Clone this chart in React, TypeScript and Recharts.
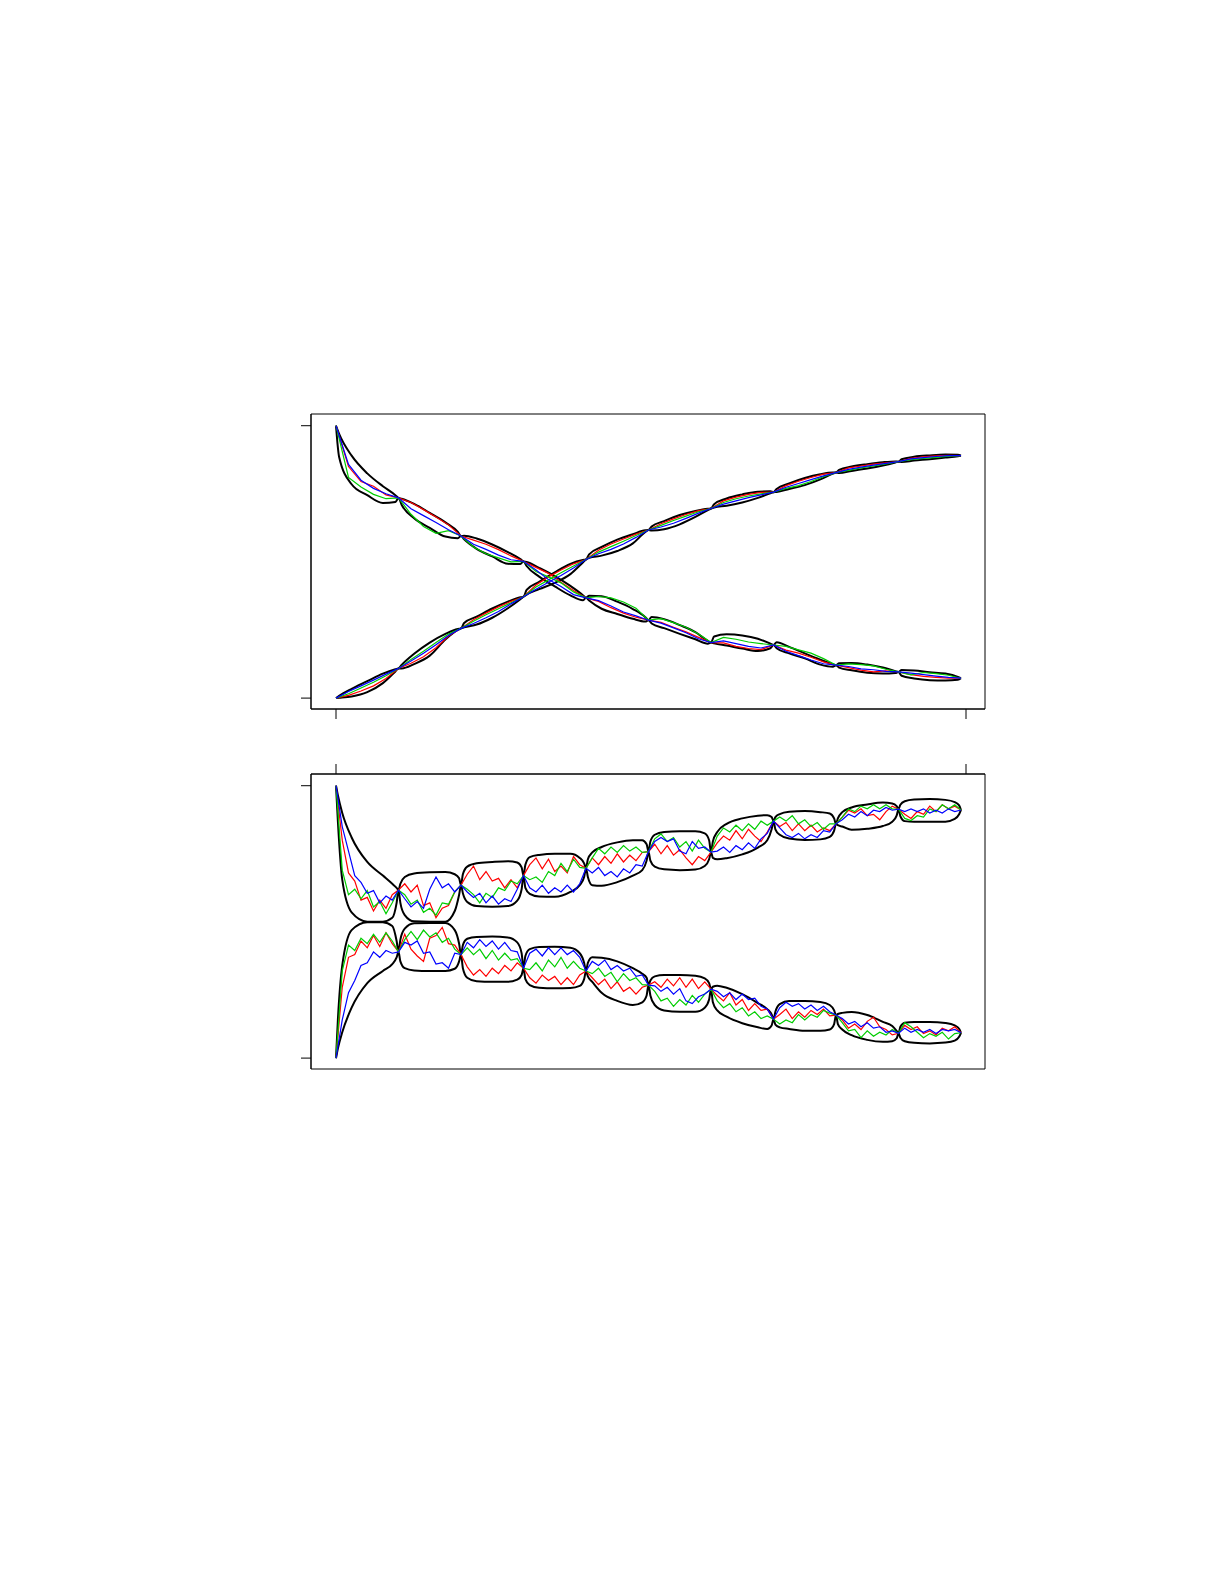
import React from "react";
import { ComposedChart, Line, XAxis, YAxis, ReferenceArea } from "recharts";

// x runs in knot units 0..10, y in percent
const topOffsets = [0, 0.05, 0.25, 0.5, 0.75, 0.95];
const bottomOffsets = [0, 0.03, 0.1, 0.25, 0.5, 0.75, 0.9, 0.97];
const xTicks = [0, 10.08];
const yTicks = [0, 100];

// top panel envelopes
const topDecUpper = [
  100, 97, 89, 82.5, 77.8, 74.5,
  73.5, 73.2, 71.3, 68, 64.5, 61,
  59.5, 59.6, 58.6, 56.4, 53.6, 51,
  50.2, 50, 47.8, 44.8, 41.2, 37.8,
  36.8, 37.6, 37.4, 35.4, 32.7, 29.7,
  28.6, 29.8, 29, 26.8, 24.2, 21,
  20.4, 22.6, 23.4, 23, 21.8, 20,
  19.5, 20.5, 18.8, 16.4, 14.1, 12.4,
  12.1, 12.8, 12.9, 12.3, 11.2, 9.9,
  9.6, 10.3, 10.1, 9.5, 9.0, 7.8,
  7.3,
];
const topDecLower = [
  100, 88.5, 78.5, 74.5, 71.6, 72,
  73.5, 71, 66, 62.5, 59.3, 58.7,
  59.5, 58.3, 54.8, 52, 49.3, 49.2,
  50.2, 48.5, 44.6, 41, 37.7, 35.9,
  36.8, 35.8, 32.8, 30.9, 29.1, 28.1,
  28.6, 27.4, 25.7, 23.6, 21.6, 20.0,
  20.4, 20.1, 19.3, 18.2, 17.3, 18.3,
  19.5, 18.3, 16.4, 14.6, 12.3, 11.5,
  12.1, 11.2, 10.2, 9.3, 9.0, 9.2,
  9.6, 8.2, 7.2, 6.6, 6.5, 6.7,
  7.3,
];
const topIncUpper = [
  0, 0.8, 3.4, 6.2, 9.0, 10.6,
  10.9, 12.2, 16.3, 20.4, 23.6, 25.4,
  25.6, 27.6, 29.9, 32.9, 35.4, 37,
  37.2, 39.7, 42.7, 46.2, 49.3, 50.7,
  50.9, 52.8, 55.5, 58.2, 60.2, 61.6,
  61.7, 63, 65, 67.2, 68.7, 69.5,
  69.6, 71.2, 73.3, 74.8, 75.8, 75.9,
  75.6, 76.8, 78.8, 80.8, 82.2, 82.8,
  82.8, 83.8, 85, 85.9, 86.6, 86.9,
  86.8, 87.7, 88.6, 89.1, 89.4, 89.3,
  89,
];
const topIncLower = [
  0, 0.1, 0.6, 2.2, 5.5, 9.8,
  10.9, 10.9, 12.5, 15.6, 21.5, 25,
  25.6, 26, 27, 29.5, 33, 36.3,
  37.2, 38, 40, 42.3, 45.5, 49.8,
  50.9, 51.5, 52.3, 54, 56.8, 61,
  61.7, 61.5, 62, 63.8, 66.5, 69,
  69.6, 70, 70.6, 71.8, 73.5, 75.2,
  75.6, 75.7, 76.8, 78.2, 80.3, 82.4,
  82.8, 82.6, 83.4, 84.3, 85.4, 86.5,
  86.8, 86.7, 87.2, 87.7, 88.3, 88.8,
  89,
];

// top panel chains, sampled every 0.2
const topDecRed = [
  100, 85, 79.5, 77.8, 74.6, 73.5, 71.8, 69.2, 66.5, 63.6,
  59.5, 58, 56.5, 54.5, 52.2, 50.2, 48, 45.8, 42.5, 39.5,
  36.8, 35.5, 33.2, 31.2, 29.7, 28.6, 27.8, 26, 24.3, 22.3,
  20.4, 20.3, 19, 18.2, 17.8, 19.5, 17.6, 16.5, 15, 13.3,
  12.1, 11.2, 10.3, 9.6, 10, 9.6, 8.6, 8, 7.6, 7.3, 7.3,
];
const topDecGreen = [
  100, 81, 77.5, 74.8, 73.2, 73.5, 67.5, 63, 60.5, 61.5,
  59.5, 55.5, 53, 51.5, 50, 50.2, 46.5, 44.5, 42.3, 39,
  36.8, 37.3, 36.8, 35.3, 33, 28.6, 29.2, 27.7, 26, 23.5,
  20.4, 22.3, 21.6, 20.6, 20, 19.5, 19, 17.7, 16.5, 14.5,
  12.1, 12.6, 12.3, 11.8, 10.6, 9.6, 8.5, 9.4, 9.0, 8.4, 7.3,
];
const topDecBlue = [
  100, 85.8, 80, 77, 75, 73.5, 69.5, 67, 64.5, 61.8,
  59.5, 56.5, 54.6, 52.5, 50.8, 50.2, 47, 43.5, 41, 38,
  36.8, 35.8, 33.8, 31.6, 30.2, 28.6, 27.5, 25.8, 24, 21.8,
  20.4, 21, 20, 19, 18.4, 19.5, 17.2, 15.6, 14, 12.6,
  12.1, 11.6, 10.7, 10.4, 9.8, 9.6, 9.2, 8.6, 8.1, 7.6, 7.3,
];
const topIncRed = [
  0, 1.0, 2.6, 4.5, 7.2, 10.9, 12.8, 15.2, 18.5, 22.8,
  25.6, 28.8, 31.2, 33.5, 35.5, 37.2, 41.5, 44.5, 47, 49.3,
  50.9, 54.3, 56.6, 58.4, 60.2, 61.7, 64, 65.8, 67.4, 68.8,
  69.6, 72.4, 73.8, 74.8, 75.5, 75.6, 78, 79.6, 81, 82.2,
  82.8, 84.5, 85.2, 85.9, 86.4, 86.8, 88, 88.6, 88.9, 89.1, 89,
];
const topIncGreen = [
  0, 1.6, 3.7, 5.8, 8.2, 10.9, 14.2, 17.2, 20.4, 23.5,
  25.6, 28.2, 30.6, 32.8, 35, 37.2, 40.8, 43.4, 46, 48.5,
  50.9, 53.6, 55.6, 57.6, 59.7, 61.7, 63.4, 65.2, 66.8, 68.4,
  69.6, 71.8, 73.2, 74.2, 75, 75.6, 77, 78, 79.5, 81.3,
  82.8, 83.6, 84.5, 85.2, 86, 86.8, 87.5, 88, 88.4, 88.8, 89,
];
const topIncBlue = [
  0, 2.4, 4.5, 6.6, 8.8, 10.9, 13.6, 16.5, 19.6, 23,
  25.6, 27.4, 29.5, 31.8, 34.6, 37.2, 40, 42.5, 45, 47.8,
  50.9, 53, 54.6, 56.6, 59, 61.7, 62.8, 64.2, 66, 67.9,
  69.6, 71.2, 72.4, 73.6, 74.6, 75.6, 77.4, 78.8, 80.2, 81.6,
  82.8, 84, 84.8, 85.5, 86.2, 86.8, 87.8, 88.3, 88.7, 89, 89,
];

// bottom panel envelopes
const botUpUpper = [
  100, 96.5, 90, 81, 72, 67, 64, 62.5,
  61.7, 64, 66.5, 67.8, 68.2, 68.3, 67.5, 66,
  63.5, 67.5, 70.3, 71.5, 72, 72.3, 71.8, 70,
  67, 71, 73.8, 74.6, 75, 75, 73.5, 71.5,
  69.7, 73, 75.5, 77.5, 79.2, 80, 80, 78.5,
  75.8, 79.5, 82, 83, 83.3, 83.3, 82.5, 80,
  75.6, 79.5, 83, 86, 88, 89, 89.2, 88.5,
  87, 88.5, 89.6, 90.4, 90.7, 90.3, 89.8, 88,
  86, 88, 90.3, 92, 93.1, 93.8, 93.5, 92.5,
  91.4, 93, 94.3, 94.9, 95.1, 94.8, 94, 92.8,
  91.1,
];
const botUpLower = [
  100, 87, 65.5, 53.5, 50.1, 50.1, 51.5, 57,
  61.7, 57, 52.5, 50.2, 50.1, 50.1, 54, 60,
  63.5, 60.5, 57.3, 55.8, 55.6, 55.8, 57.8, 62,
  67, 62.5, 60.3, 59.3, 59.2, 61, 63.5, 66.5,
  69.7, 66.5, 63.5, 63.3, 64.6, 67, 69, 72.5,
  75.8, 72.5, 70.3, 69.3, 69, 69.2, 70.5, 73,
  75.6, 73.5, 73, 73.4, 74.8, 77.3, 80, 84,
  87, 84, 82, 80.6, 80.1, 80.3, 81.2, 83.5,
  86, 85.5, 85, 83.8, 84.2, 85.2, 86.8, 89,
  91.4, 88.8, 87, 86.8, 86.8, 86.8, 87.8, 89.5,
  91.1,
];
const botLowUpper = [
  0, 14, 34, 47, 49.9, 49.9, 48.5, 43,
  39, 43.5, 47.5, 49.5, 49.6, 49.6, 47, 42,
  38, 41.5, 43.8, 44.5, 44.6, 44.3, 42.5, 38.5,
  33, 37.5, 40, 40.8, 40.9, 40.5, 38.5, 35,
  32, 35, 37, 36.8, 35.5, 33, 31, 29.5,
  26.8, 28.5, 30, 30.5, 30.5, 30.2, 29.3, 27.5,
  25.3, 26.2, 26.6, 25.8, 23.5, 20.2, 18, 16,
  14.3, 17, 19.8, 21, 21, 20.6, 19.5, 17.5,
  15.8, 16.2, 16.6, 16.9, 15.8, 13.3, 11.8, 10,
  9.1, 11.5, 13, 13.3, 13.3, 12.9, 12, 10.8,
  9.3,
];
const botLowLower = [
  0, 3.5, 9.5, 18.5, 27.5, 32, 34.5, 37,
  39, 35.5, 33, 32.2, 32, 32, 32.8, 35.5,
  38, 33, 29.5, 28.2, 28, 28, 28.8, 30.5,
  33, 29, 26.8, 25.8, 25.6, 25.7, 26.5, 29,
  32, 30, 28, 24, 21, 19.5, 20.5, 23,
  26.8, 23, 19.5, 17.5, 17, 17, 18.5, 21.5,
  25.3, 20.5, 17.5, 15.2, 12.8, 11.3, 10.7, 12,
  14.3, 12.3, 11.3, 10.7, 10, 10, 10.5, 12.5,
  15.8, 12.5, 10.5, 8.4, 6.7, 6.0, 6.2, 7.2,
  9.1, 7.5, 6.2, 5.6, 5.4, 5.7, 6.4, 7.8,
  9.3,
];

// bottom panel chains, sampled every 0.1
const botUpRed = [
  100, 80, 68, 65, 58, 59, 54, 58, 55, 60,
  61.7, 64, 61, 63.5, 56, 57, 51.5, 55, 56, 61,
  63.5, 67.5, 70.5, 65.5, 68.5, 65, 66, 62.5, 65.5, 62.5,
  67, 71, 73.5, 69.5, 73, 68.5, 70.5, 68, 74, 71,
  69.7, 73.5, 71, 74, 71.5, 75, 72, 74.5, 72.5, 75.5,
  75.8, 78.5, 75, 78, 74.5, 76.5, 73.5, 71, 74, 72.5,
  75.6, 79, 81.5, 80, 83.5, 80.5, 84, 81.5, 79.5, 83,
  87, 85, 86.5, 83.5, 86, 83.5, 85.5, 83, 84.5, 83.5,
  86, 88.5, 91, 90, 91.5, 89, 89.5, 87.5, 90.5, 92.5,
  91.4, 89.5, 88, 90.5, 89.5, 92.5, 90.5, 93, 91.5, 92.5,
  91.1,
];
const botUpGreen = [
  100, 69, 60, 62, 58.5, 61.5, 55.5, 57.5, 53, 57,
  61.7, 60, 56.5, 58, 53.5, 55, 52.5, 57, 56.5, 61,
  63.5, 62, 60, 57, 60.5, 59, 62.5, 61.5, 65, 64,
  67, 65.5, 66.5, 64.5, 68.5, 67, 71.5, 68.5, 73, 70,
  69.7, 73.5, 77, 75, 77.5, 75.5, 78, 76, 77.5, 75.5,
  75.8, 80.5, 82.3, 79.5, 81, 77.5, 79.5, 76, 80, 77,
  75.6, 81.5, 84.5, 83, 85.5, 83.5, 86, 84, 87, 85.5,
  87, 88.5, 87, 89, 86, 87.5, 85, 86.5, 84, 86,
  86, 88.5, 91.5, 90.5, 92.5, 91.5, 93, 91.5, 93, 91.5,
  91.4, 88, 87.2, 89, 88.5, 91.5, 90.5, 93, 91.5, 93,
  91.1,
];
const botUpBlue = [
  100, 85, 76, 67, 64.5, 60.5, 61.5, 57, 59.5, 58,
  61.7, 58.5, 55.5, 57.5, 55, 62, 66.5, 62.5, 64, 61,
  63.5, 61, 59, 60.5, 57, 59.5, 56.5, 58.5, 57.5, 62,
  67, 62.5, 61, 63.5, 60.5, 62.5, 61, 63.5, 61, 64,
  69.7, 68, 70, 67, 68.5, 66.5, 69.5, 68, 71, 70.5,
  75.8, 79.5, 81, 79.5, 80.5, 76, 75, 79.5, 77, 77.5,
  75.6, 76, 77.5, 75.5, 78, 76.5, 79, 77, 80.5, 82.5,
  87, 84.5, 82, 81, 82.5, 80.5, 82, 81, 83.5, 83,
  86, 87.5, 89.5, 88.5, 90.5, 89, 91, 90.5, 92, 91,
  91.4, 90.5, 91.5, 90.5, 91.5, 90, 91, 90, 91.5, 90.5,
  91.1,
];
const botLowRed = [
  0, 26, 37, 38, 43, 40.5, 45, 41, 46, 42,
  39, 45.5, 40, 37.5, 35.5, 44, 45, 48, 42, 41.5,
  38, 33.5, 30.5, 32.5, 30, 33, 31, 34, 32, 35,
  33, 29.5, 27.5, 30.5, 28.5, 30, 27, 29.5, 27, 30.5,
  32, 29.5, 27, 29, 25.5, 28, 24.5, 26, 23.5, 26,
  26.8, 28, 26, 29, 26.5, 29.5, 26, 29, 25.5, 28,
  25.3, 23, 21, 24, 19.5, 21.5, 17.5, 20, 17.5, 18,
  14.3, 16, 18, 14.5, 17, 15, 17.5, 16, 18, 15.5,
  15.8, 14, 11, 12.5, 10.5, 13.5, 15, 11.5, 10.5, 8.5,
  9.1, 12, 10.5, 11.5, 9, 10, 8.5, 11, 10, 11.5,
  9.3,
];
const botLowGreen = [
  0, 32, 41.5, 39.5, 44, 42, 45.5, 42.5, 46, 43,
  39, 43.5, 46.5, 43.5, 47, 44.5, 46, 42.5, 44, 40,
  38, 40.5, 38, 40, 36.5, 39.5, 36, 38.5, 36, 36.5,
  33, 32.5, 35, 32, 36, 33.5, 37, 33, 35.5, 33,
  32, 31, 33, 30, 31.5, 28, 31, 28.5, 29.5, 27,
  26.8, 24.5, 21, 22, 19, 21.5, 19.5, 23, 20.5, 23.5,
  25.3, 21, 18.5, 20, 17, 18.5, 15.5, 17, 14.5, 15.5,
  14.3, 12.5, 14, 13, 16, 14, 16, 15, 17.5, 16.5,
  15.8, 13, 10, 10.5, 7.5, 10, 8, 9.5, 8.5, 10.5,
  9.1, 13, 11.5, 9.5, 7.5, 9, 8, 9.5, 7, 9,
  9.3,
];
const botLowBlue = [
  0, 14, 24, 28.5, 34, 35, 39, 37, 39.5, 38.5,
  39, 42.5, 41.5, 43, 38.5, 39, 34.5, 35, 33, 38.5,
  38, 42.5, 40.5, 43.5, 41, 43, 40, 42.5, 39.5, 39,
  33, 38.5, 40, 37.5, 40.5, 38, 40.5, 38, 39.5, 37,
  32, 35.5, 34, 36, 32.5, 34, 32, 33, 30, 30.5,
  26.8, 26.5, 24.5, 26, 23.5, 25.5, 21, 20, 22.5, 23.5,
  25.3, 24.5, 22.5, 24, 21.5, 23.5, 21.5, 22, 19, 18,
  14.3, 18.5, 20.5, 19, 20, 18, 19.5, 17.5, 19, 17,
  15.8, 14.5, 12.5, 13.5, 11.5, 13, 11, 11.5, 9.5, 10,
  9.1, 11, 9.5, 10.5, 9.5, 10.5, 9, 10.5, 10, 10.5,
  9.3,
];

const RED = "#ff0000";
const GREEN = "#00cd00";
const BLUE = "#0000ff";

const edgeX = (offsets: number[]) =>
  Array.from({ length: 10 }, (_, i) => offsets.map((o) => +(i + o).toFixed(2)))
    .flat()
    .concat(10);

const stepX = (ys: number[], step: number) => ys.map((_, i) => +(i * step).toFixed(2));

const toPoints = (xs: number[], ys: number[]) => ys.map((y, i) => ({ x: xs[i], y }));

type Series = { xs: number[]; ys: number[]; color: string; width: number; curve: "monotone" | "linear" };

function panelSeries(
  offsets: number[],
  edges: number[][],
  chains: [number[], string][],
  step: number
): Series[] {
  const ex = edgeX(offsets);
  const out: Series[] = edges.map((ys) => ({ xs: ex, ys, color: "#000", width: 2, curve: "monotone" }));
  chains.forEach(([ys, color]) => out.push({ xs: stepX(ys, step), ys, color, width: 1.2, curve: "linear" }));
  return out;
}

const topSeries = panelSeries(
  topOffsets,
  [topDecUpper, topDecLower, topIncUpper, topIncLower],
  [
    [topDecRed, RED],
    [topIncRed, RED],
    [topDecGreen, GREEN],
    [topIncGreen, GREEN],
    [topDecBlue, BLUE],
    [topIncBlue, BLUE],
  ],
  0.2
);

const bottomSeries = panelSeries(
  bottomOffsets,
  [botUpUpper, botUpLower, botLowUpper, botLowLower],
  [
    [botUpRed, RED],
    [botLowRed, RED],
    [botUpGreen, GREEN],
    [botLowGreen, GREEN],
    [botUpBlue, BLUE],
    [botLowBlue, BLUE],
  ],
  0.1
);

const X_DOMAIN: [number, number] = [-0.4, 10.384];
const Y_DOMAIN: [number, number] = [-4, 104.3];
const black = { stroke: "#000", strokeWidth: 1 };
const noLabel = () => <g />;

function Panel({ series, ticksOnTop }: { series: Series[]; ticksOnTop: boolean }) {
  return (
    <ComposedChart
      width={719}
      height={ticksOnTop ? 330 : 326}
      margin={ticksOnTop ? { top: 0, right: 15, bottom: 11, left: 0 } : { top: 10, right: 15, bottom: 0, left: 0 }}
    >
      <XAxis
        xAxisId="main"
        orientation={ticksOnTop ? "top" : "bottom"}
        type="number"
        dataKey="x"
        domain={X_DOMAIN}
        ticks={xTicks}
        interval={0}
        tick={noLabel}
        tickSize={10}
        height={ticksOnTop ? 24 : 21}
        stroke="#000"
        axisLine={black}
        tickLine={black}
        allowDataOverflow
      />
      <YAxis
        yAxisId="main"
        type="number"
        domain={Y_DOMAIN}
        ticks={yTicks}
        interval={0}
        tick={noLabel}
        tickSize={10}
        width={30}
        stroke="#000"
        axisLine={black}
        tickLine={black}
        allowDataOverflow
      />
      <ReferenceArea
        xAxisId="main"
        yAxisId="main"
        x1={X_DOMAIN[0]}
        x2={X_DOMAIN[1]}
        y1={Y_DOMAIN[0]}
        y2={Y_DOMAIN[1]}
        fill="none"
        fillOpacity={0}
        stroke="#000"
        strokeWidth={1}
        strokeOpacity={1}
        ifOverflow="visible"
      />
      {series.map((s, i) => (
        <Line
          key={i}
          xAxisId="main"
          yAxisId="main"
          data={toPoints(s.xs, s.ys)}
          dataKey="y"
          type={s.curve}
          stroke={s.color}
          strokeWidth={s.width}
          dot={false}
          activeDot={false}
          isAnimationActive={false}
        />
      ))}
    </ComposedChart>
  );
}

export default function App() {
  return (
    <div style={{ position: "absolute", left: 0, top: 0, width: 1225, height: 1585, background: "#fff" }}>
      <div style={{ position: "absolute", left: 281, top: 404 }}>
        <Panel series={topSeries} ticksOnTop={false} />
      </div>
      <div style={{ position: "absolute", left: 281, top: 750 }}>
        <Panel series={bottomSeries} ticksOnTop />
      </div>
    </div>
  );
}
